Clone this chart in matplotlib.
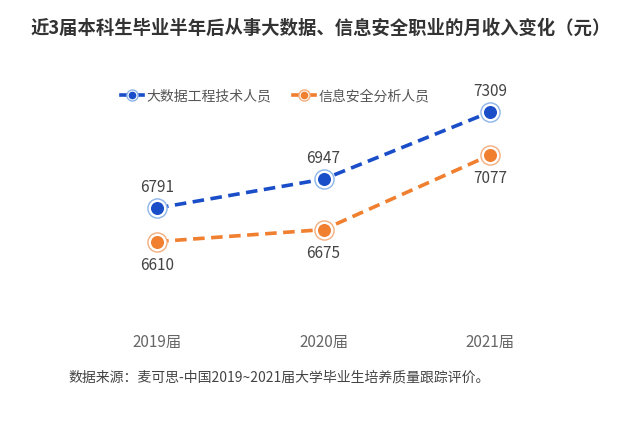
import matplotlib.pyplot as plt
from matplotlib.lines import Line2D
from matplotlib.legend_handler import HandlerTuple

plt.rcParams['font.family'] = ['Noto Sans CJK SC', 'DejaVu Sans']

# 数据
years = ['2019届', '2020届', '2021届']
big_data = [6791, 6947, 7309]
info_sec = [6610, 6675, 7077]
names = ['大数据工程技术人员', '信息安全分析人员']

blue, blue_ring = '#1a4dc8', '#8db4ea'
orange, orange_ring = '#f07f2f', '#f4ae7d'

fig = plt.figure(figsize=(6.42, 4.26), dpi=100)
ax = fig.add_axes([70 / 642, 1 - 320 / 426, 510 / 642, 260 / 426])
x = list(range(len(years)))

handles = []
for vals, c, rc, off in [(big_data, blue, blue_ring, 9), (info_sec, orange, orange_ring, -23)]:
    ax.plot(x, vals, color=c, lw=2.6, ls=(0, (3.2, 1.8)), zorder=2)
    ax.scatter(x, vals, s=190, facecolor='white', edgecolor=rc, lw=1.0, zorder=3)
    ax.scatter(x, vals, s=70, color=c, zorder=4)
    for xi, v in zip(x, vals):
        ax.annotate(str(v), (xi, v), xytext=(0, off), textcoords='offset points',
                    ha='center', va='bottom', fontsize=11, color='#444444')
    h_line = Line2D([], [], color=c, lw=2.6)
    h_ring = Line2D([], [], ls='none', marker='o', ms=8, mfc='white', mec=rc, mew=1.0)
    h_dot = Line2D([], [], ls='none', marker='o', ms=4.5, color=c)
    handles.append((h_line, h_ring, h_dot))

ax.set_xlim(-0.523, 2.54)
ax.set_ylim(6187, 7590)
ax.set_xticks(x)
ax.set_xticklabels(years, fontsize=11, color='#666666')
ax.tick_params(axis='x', length=0, pad=10)
ax.set_yticks([])
for s in ax.spines.values():
    s.set_visible(False)

fig.legend(handles, names, handler_map={tuple: HandlerTuple(ndivide=1, pad=0)},
           ncol=2, frameon=False, loc='center left', bbox_to_anchor=(108 / 642, 1 - 96 / 426),
           fontsize=10, labelcolor='#555555', handlelength=1.6, handletextpad=0.3,
           columnspacing=1.5)

fig.text(0.5, 1 - 28 / 426, '近3届本科生毕业半年后从事大数据、信息安全职业的月收入变化（元）',
         ha='center', va='center', fontsize=13.2, fontweight='bold', color='#333333')
fig.text(68 / 642, 1 - 378 / 426, '数据来源：麦可思-中国2019~2021届大学毕业生培养质量跟踪评价。',
         ha='left', va='center', fontsize=10, color='#444444')

fig.savefig('out.png', dpi=100)
